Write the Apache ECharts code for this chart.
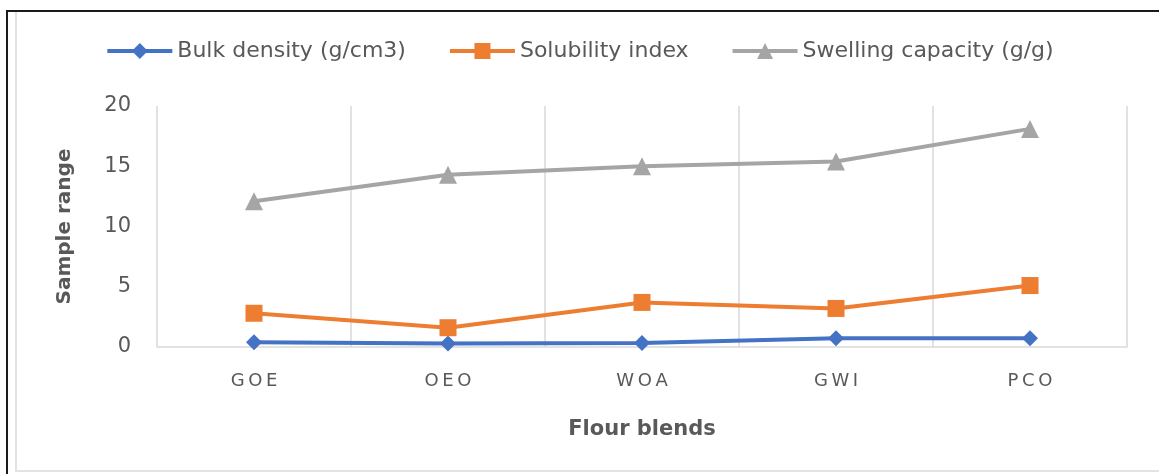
<!DOCTYPE html>
<html>
<head>
<meta charset="utf-8">
<script src="https://cdn.jsdelivr.net/npm/echarts@6/dist/echarts.min.js"></script>
<style>
html,body{margin:0;padding:0;background:#fff;overflow:hidden;width:1159px;height:474px;}
#c{position:absolute;left:0;top:0;width:1159px;height:474px;}
#frame{position:absolute;left:6px;top:10px;width:1153px;height:464px;border-left:2px solid #1a1a1a;border-top:2px solid #1a1a1a;box-sizing:border-box;pointer-events:none;}
#inner{position:absolute;left:15px;top:12px;width:1144px;height:460px;border-left:2px solid #e3e3e3;border-bottom:2px solid #e3e3e3;box-sizing:border-box;pointer-events:none;}
</style>
</head>
<body>
<div id="c"></div>
<div id="frame"></div>
<div id="inner"></div>
<script>
const categories = ['GOE', 'OEO', 'WOA', 'GWI', 'PCO'];
const bulkDensity = [0.4, 0.3, 0.33, 0.72, 0.72];
const solubilityIndex = [2.8, 1.6, 3.7, 3.2, 5.1];
const swellingCapacity = [12.1, 14.3, 15.0, 15.4, 18.1];
const yTicks = { min: 0, max: 20, interval: 5 };

const font = '"DejaVu Sans", sans-serif';
const chart = echarts.init(document.getElementById('c'));
chart.setOption({
  animation: false,
  textStyle: { fontFamily: font },
  legend: {
    top: 35,
    left: 'center',
    itemWidth: 65,
    itemHeight: 20,
    itemGap: 42,
    lineStyle: { width: 4 },
    textStyle: { fontSize: 22, color: '#595959', fontFamily: font },
    data: ['Bulk density (g/cm3)', 'Solubility index', 'Swelling capacity (g/g)']
  },
  grid: { left: 157, right: 32, top: 106, bottom: 127, containLabel: false },
  xAxis: {
    type: 'category',
    data: categories,
    boundaryGap: true,
    name: 'Flour blends',
    nameLocation: 'middle',
    nameGap: 72,
    nameTextStyle: { fontSize: 21, fontWeight: 'bold', color: '#595959', fontFamily: font },
    axisLine: { lineStyle: { color: '#d9d9d9', width: 1.5 } },
    axisTick: { show: false },
    axisLabel: { fontSize: 18, color: '#595959', margin: 25, fontFamily: font,
      formatter: v => v.split('').join('\u2009') },
    splitLine: { show: true, lineStyle: { color: '#d9d9d9', width: 1.5 } }
  },
  yAxis: {
    type: 'value',
    min: yTicks.min, max: yTicks.max, interval: yTicks.interval,
    name: 'Sample range',
    nameLocation: 'middle',
    nameGap: 82,
    nameTextStyle: { fontSize: 20, fontWeight: 'bold', color: '#595959', fontFamily: font },
    axisLine: { show: false },
    axisTick: { show: false },
    axisLabel: { fontSize: 21, color: '#595959', margin: 26, fontFamily: font },
    splitLine: { show: false }
  },
  series: [
    { name: 'Bulk density (g/cm3)', type: 'line', data: bulkDensity,
      symbol: 'diamond', symbolSize: 16, lineStyle: { width: 4, color: '#4472c4' },
      itemStyle: { color: '#4472c4' } },
    { name: 'Solubility index', type: 'line', data: solubilityIndex,
      symbol: 'rect', symbolSize: 17, lineStyle: { width: 4, color: '#ed7d31' },
      itemStyle: { color: '#ed7d31' } },
    { name: 'Swelling capacity (g/g)', type: 'line', data: swellingCapacity,
      symbol: 'triangle', symbolSize: 18, lineStyle: { width: 4, color: '#a5a5a5' },
      itemStyle: { color: '#a5a5a5' } }
  ]
});
</script>
</body>
</html>
